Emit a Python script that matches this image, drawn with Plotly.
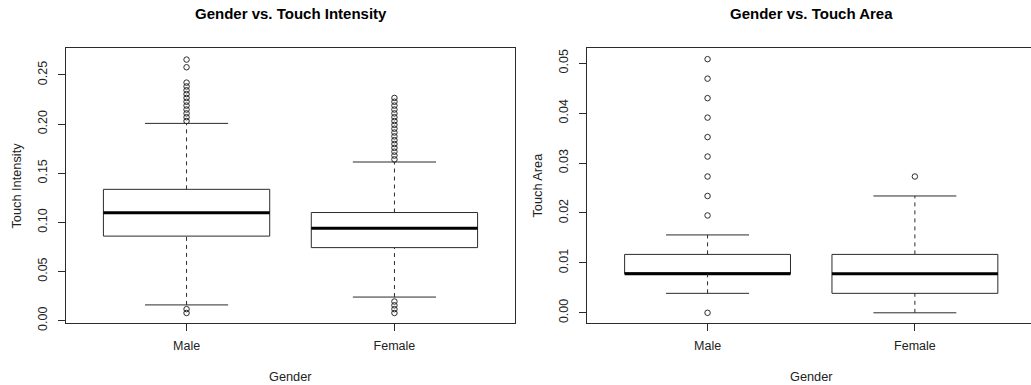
import plotly.graph_objects as go

# ---------------- data ----------------
categories = ["Male", "Female"]
positions = [1, 2]

# Touch intensity summary stats
int_q1 = [0.0860, 0.0743]
int_median = [0.1099, 0.0939]
int_q3 = [0.1336, 0.1100]
int_lower = [0.0160, 0.0240]
int_upper = [0.2007, 0.1614]
int_out_male = [0.0078, 0.0117, 0.2031, 0.2070, 0.2109, 0.2148, 0.2188, 0.2227,
                0.2266, 0.2305, 0.2344, 0.2383, 0.2422, 0.2578, 0.2656]
int_out_female = [0.0078, 0.0117, 0.0156, 0.0195, 0.1641, 0.1680, 0.1719, 0.1758,
                  0.1797, 0.1836, 0.1875, 0.1914, 0.1953, 0.1992, 0.2031, 0.2070,
                  0.2109, 0.2148, 0.2188, 0.2227, 0.2266]

# Touch area summary stats
area_q1 = [0.0078, 0.0039]
area_median = [0.0078, 0.0078]
area_q3 = [0.0117, 0.0117]
area_lower = [0.0039, 0.0000]
area_upper = [0.0156, 0.0234]
area_out_male = [0.0000, 0.0195, 0.0234, 0.0273, 0.0313, 0.0352, 0.0391, 0.0430,
                 0.0469, 0.0508]
area_out_female = [0.0273]

BOX_W = 0.8
CAP_W = 0.4
LINE = "#2b2b2b"
FONT = "Liberation Sans, Arial, sans-serif"

fig = go.Figure()


def add_boxplot(q1, med, q3, lo, hi, outs, xa, ya):
    for i, pos in enumerate(positions):
        # box body
        fig.add_trace(go.Box(
            x=[pos], q1=[q1[i]], median=[med[i]], q3=[q3[i]],
            lowerfence=[q1[i]], upperfence=[q3[i]], width=BOX_W,
            fillcolor="white", line=dict(color=LINE, width=1),
            whiskerwidth=0, boxpoints=False, showlegend=False,
            xaxis=xa, yaxis=ya, hoverinfo="skip"))
        # median (thick)
        fig.add_trace(go.Scatter(
            x=[pos - BOX_W / 2, pos + BOX_W / 2], y=[med[i], med[i]],
            mode="lines", line=dict(color="black", width=3),
            showlegend=False, xaxis=xa, yaxis=ya, hoverinfo="skip"))
        # dashed whiskers
        for a, b in ((q3[i], hi[i]), (lo[i], q1[i])):
            fig.add_trace(go.Scatter(
                x=[pos, pos], y=[a, b], mode="lines",
                line=dict(color=LINE, width=1, dash="4px,4px"),
                showlegend=False, xaxis=xa, yaxis=ya, hoverinfo="skip"))
        # caps
        for v in (lo[i], hi[i]):
            fig.add_trace(go.Scatter(
                x=[pos - CAP_W / 2, pos + CAP_W / 2], y=[v, v], mode="lines",
                line=dict(color=LINE, width=1),
                showlegend=False, xaxis=xa, yaxis=ya, hoverinfo="skip"))
        # outliers
        fig.add_trace(go.Scatter(
            x=[pos] * len(outs[i]), y=outs[i], mode="markers",
            marker=dict(symbol="circle-open", size=5.5, color=LINE,
                        line=dict(width=1, color=LINE)),
            showlegend=False, xaxis=xa, yaxis=ya, hoverinfo="skip"))


add_boxplot(int_q1, int_median, int_q3, int_lower, int_upper,
            [int_out_male, int_out_female], "x", "y")
add_boxplot(area_q1, area_median, area_q3, area_lower, area_upper,
            [area_out_male, area_out_female], "x2", "y2")

W, H = 1031, 385
ML, MR, MT, MB = 66, 0, 48, 62
PW = W - ML - MR
PH = H - MT - MB

axis_common = dict(showgrid=False, zeroline=False, showline=True,
                   linecolor=LINE, linewidth=1, ticks="outside", ticklen=7,
                   tickcolor=LINE, tickwidth=1,
                   tickfont=dict(family=FONT, size=12.5, color="#222"))

fig.update_layout(
    width=W, height=H,
    margin=dict(l=ML, r=MR, t=MT, b=MB),
    plot_bgcolor="white", paper_bgcolor="white",
    showlegend=False,
    xaxis=dict(axis_common, domain=[0, (515 - ML) / PW], range=[0.42, 2.58],
               tickvals=positions, ticktext=categories, mirror=True,
               ticklabelstandoff=4, anchor="y"),
    yaxis=dict(axis_common, domain=[0, 1], range=[-0.0024, 0.2774],
               tickvals=[0, 0.05, 0.10, 0.15, 0.20, 0.25], tickformat=".2f",
               tickangle=-90, mirror=True, ticklabelstandoff=6, anchor="x"),
    xaxis2=dict(axis_common, domain=[(587.3 - ML) / PW, 1], range=[0.42, 2.56],
                tickvals=positions, ticktext=categories, mirror=True,
                ticklabelstandoff=4, anchor="y2"),
    yaxis2=dict(axis_common, domain=[0, 1], range=[-0.00204, 0.05304],
                tickvals=[0, 0.01, 0.02, 0.03, 0.04, 0.05], tickformat=".2f",
                tickangle=-90, mirror=False, ticklabelstandoff=6, anchor="x2"),
)

annots = [
    dict(text="<b>Gender vs. Touch Intensity</b>", x=(290.5 - ML) / PW, y=1 + 35 / PH,
         font=dict(size=15, family=FONT, color="black")),
    dict(text="<b>Gender vs. Touch Area</b>", x=(811 - ML) / PW, y=1 + 35 / PH,
         font=dict(size=15, family=FONT, color="black")),
    dict(text="Gender", x=(290.5 - ML) / PW, y=-53 / PH,
         font=dict(size=12.75, family=FONT, color="#222")),
    dict(text="Gender", x=(811 - ML) / PW, y=-53 / PH,
         font=dict(size=12.75, family=FONT, color="#222")),
    dict(text="Touch Intensity", x=(16 - ML) / PW, y=0.5, textangle=-90,
         font=dict(size=12.75, family=FONT, color="#222")),
    dict(text="Touch Area", x=(537 - ML) / PW, y=0.5, textangle=-90,
         font=dict(size=12.75, family=FONT, color="#222")),
]
for a in annots:
    fig.add_annotation(xref="paper", yref="paper", showarrow=False,
                       xanchor="center", yanchor="middle", **a)

fig.write_html(
    "out.html",
    config={"displayModeBar": False},
    post_script="document.body.style.margin='0';document.body.style.overflow='hidden';",
)
